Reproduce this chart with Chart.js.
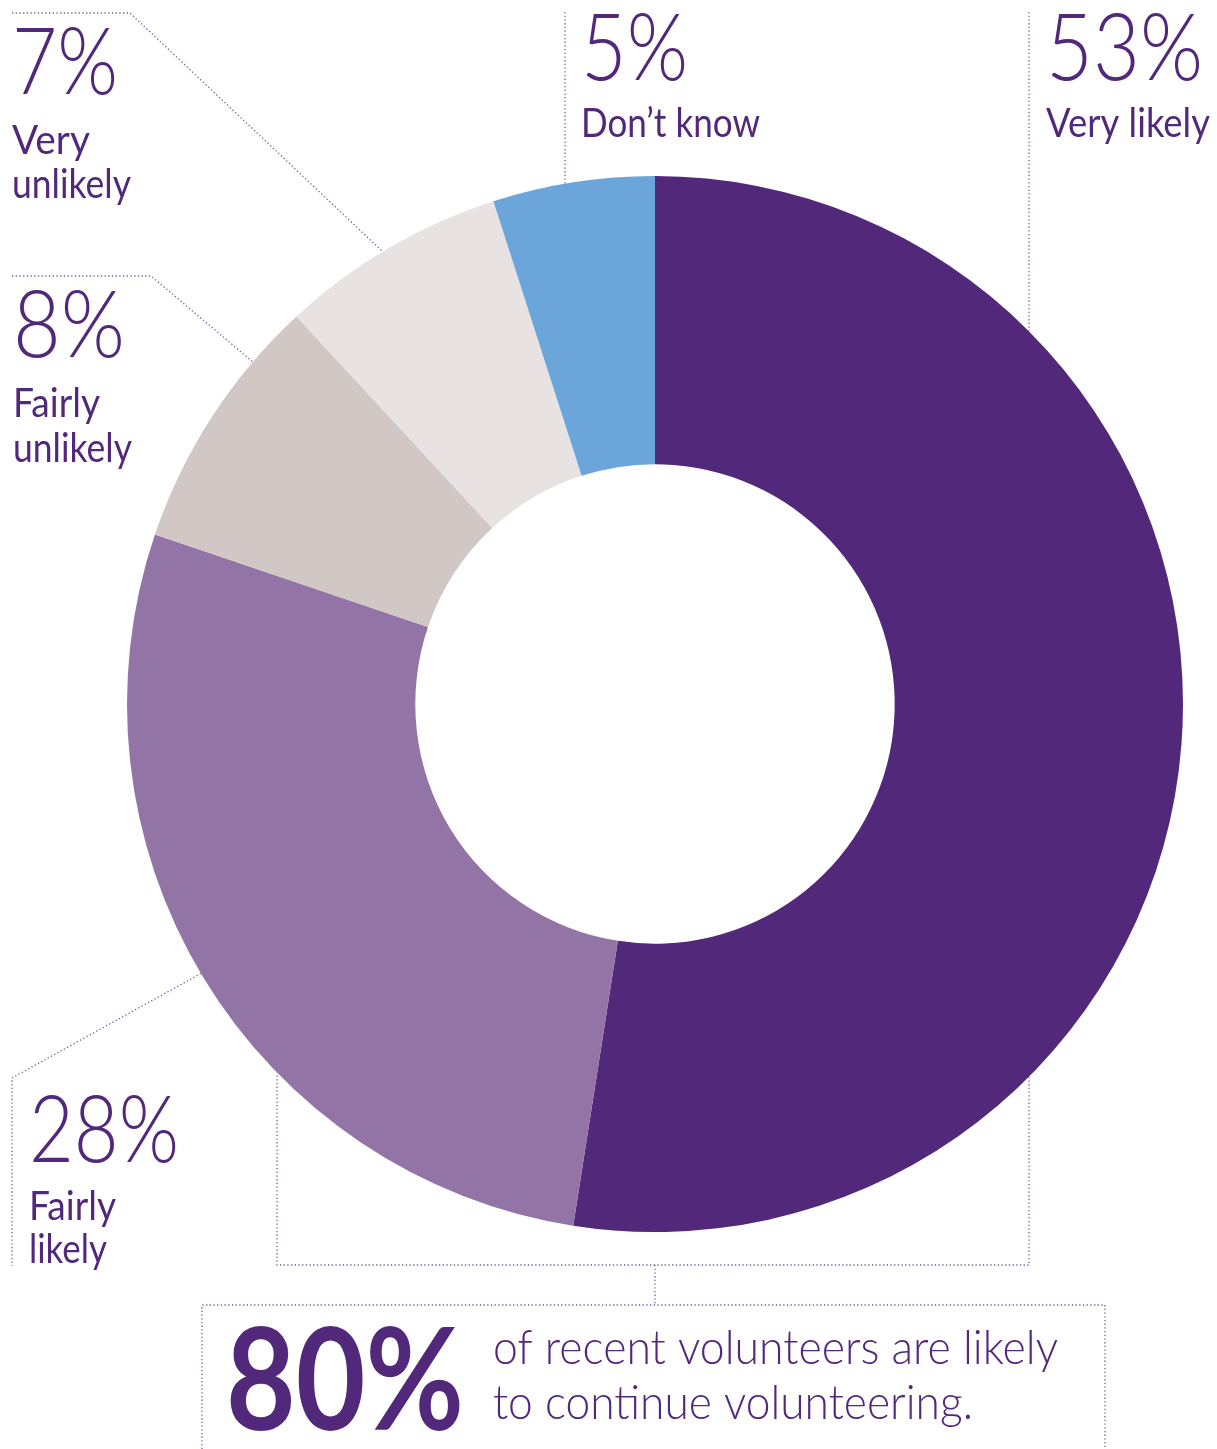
<!DOCTYPE html>
<html>
<head>
<meta charset="utf-8">
<title>Likelihood of continuing to volunteer</title>
<script src="https://cdn.jsdelivr.net/npm/chart.js@4/dist/chart.umd.min.js"></script>
<style>
  html, body { margin: 0; padding: 0; background: #ffffff; }
  #wrap { width: 1217px; height: 1449px; position: relative; }
</style>
</head>
<body>
<div id="wrap"><canvas id="donut" width="1217" height="1449"></canvas></div>
<script>
// Survey answers, in drawing order (clockwise from 12 o'clock)
const categories = ['Very likely', 'Fairly likely', 'Fairly unlikely', 'Very unlikely', 'Don\u2019t know'];
const values = [53, 28, 8, 7, 5];
const segmentColors = ['#52287a', '#9374a7', '#d1c7c5', '#e8e2e2', '#6ca5d9'];
// Label text split over lines
const labelLines = [['Very likely'], ['Fairly', 'likely'], ['Fairly', 'unlikely'], ['Very', 'unlikely'], ['Don\u2019t know']];
// Headline call-out
const headlineValue = '80%';
const headlineLines = ['of recent volunteers are likely', 'to continue volunteering.'];

const INK = '#52287a';
const DOT = 'rgba(98,62,140,0.85)';

// Where each label block sits: x, baseline of the percentage, baselines of the text lines, widths
const labelLayout = [
  { x: 1046, pct: 80,  pctW: 157, lines: [137],        lineW: [164] },
  { x: 29,   pct: 1162, pctW: 150, lines: [1220, 1263], lineW: [87, 78] },
  { x: 13,   pct: 357, pctW: 112, lines: [417, 462],   lineW: [87, 119] },
  { x: 12,   pct: 94,  pctW: 106, lines: [154, 198],   lineW: [78, 119] },
  { x: 581,  pct: 80,  pctW: 107, lines: [137],        lineW: [179] }
];

function arcGeometry(chart) {
  const arcs = chart.getDatasetMeta(0).data;
  const a = arcs[0];
  return { cx: a.x, cy: a.y, r: a.outerRadius, arcs };
}
function arcPoint(g, i, frac) {
  const arc = g.arcs[i];
  const ang = arc.startAngle + frac * (arc.endAngle - arc.startAngle);
  return [g.cx + g.r * Math.cos(ang), g.cy + g.r * Math.sin(ang)];
}
// y where a vertical line at x meets the outer rim (upper or lower)
function rimY(g, x, lower) {
  const d = Math.sqrt(Math.max(0, g.r * g.r - (x - g.cx) * (x - g.cx)));
  return lower ? g.cy + d : g.cy - d;
}
function poly(ctx, pts) {
  ctx.beginPath();
  ctx.moveTo(pts[0][0], pts[0][1]);
  for (let k = 1; k < pts.length; k++) ctx.lineTo(pts[k][0], pts[k][1]);
  ctx.stroke();
}

const annotations = {
  id: 'annotations',
  afterDatasetsDraw(chart) {
    const ctx = chart.ctx;
    const g = arcGeometry(chart);

    // dotted leader lines
    ctx.save();
    ctx.strokeStyle = DOT;
    ctx.lineWidth = 1.3;
    ctx.setLineDash([1.3, 2.4]);
    // Very unlikely
    poly(ctx, [[12, 13], [130, 13], arcPoint(g, 3, 0.47)]);
    // Fairly unlikely
    poly(ctx, [[12, 276], [151, 276], arcPoint(g, 2, 0.76)]);
    // Fairly likely
    poly(ctx, [arcPoint(g, 1, 0.505), [12, 1078], [12, 1266]]);
    // Don't know
    poly(ctx, [[565, 12], [565, rimY(g, 565, false)]]);
    // Very likely, top part
    poly(ctx, [[1029, 12], [1029, rimY(g, 1029, false)]]);
    // bracket under the two "likely" answers
    poly(ctx, [[1029, rimY(g, 1029, true)], [1029, 1265], [277, 1265], [277, rimY(g, 277, true)]]);
    const mid = (1029 + 277) / 2 + 2;
    poly(ctx, [[mid, 1265], [mid, 1305]]);
    // call-out box
    poly(ctx, [[202, 1449], [202, 1305], [1105, 1305], [1105, 1449]]);
    ctx.restore();

    // percentages and category names
    ctx.save();
    ctx.fillStyle = INK;
    ctx.textAlign = 'left';
    ctx.textBaseline = 'alphabetic';
    values.forEach((v, i) => {
      const L = labelLayout[i];
      ctx.font = '300 93px Lato';
      ctx.fillText(v + '%', L.x, L.pct, L.pctW);
      ctx.font = '400 41px Lato';
      labelLines[i].forEach((t, j) => ctx.fillText(t, L.x, L.lines[j], L.lineW[j]));
    });

    // headline
    ctx.font = '700 142px Lato';
    ctx.fillText(headlineValue, 226, 1430, 238);
    ctx.font = '300 47px Lato';
    ctx.fillText(headlineLines[0], 493, 1364, 565);
    ctx.fillText(headlineLines[1], 493, 1419, 480);
    ctx.restore();
  }
};

new Chart(document.getElementById('donut'), {
  type: 'doughnut',
  data: {
    labels: categories,
    datasets: [{
      data: values,
      backgroundColor: segmentColors,
      borderWidth: 0,
      hoverOffset: 0
    }]
  },
  options: {
    responsive: false,
    animation: false,
    devicePixelRatio: 1,
    cutout: '45.4%',
    layout: { padding: { left: 127, right: 34, top: 176, bottom: 217 } },
    plugins: {
      legend: { display: false },
      tooltip: { enabled: false },
      title: { display: false }
    },
    events: []
  },
  plugins: [annotations]
});
</script>
</body>
</html>
